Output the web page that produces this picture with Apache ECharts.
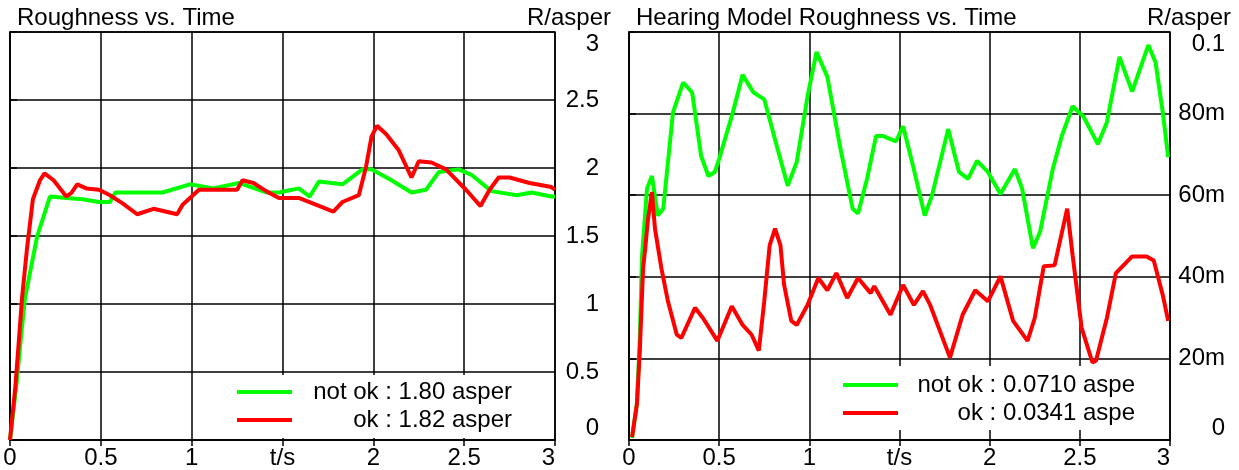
<!DOCTYPE html>
<html>
<head>
<meta charset="utf-8">
<title>Roughness vs. Time</title>
<script src="https://cdn.jsdelivr.net/npm/echarts@6/dist/echarts.min.js"></script>
<style>
  html, body { margin: 0; padding: 0; background: #fff; }
  #chart { width: 1239px; height: 470px; }
</style>
</head>
<body>
<div id="chart"></div>
<script>
// Roughness vs. Time - two panels

// left panel (R in asper)
const tNotOkL = [0, 0.035, 0.06, 0.082, 0.15, 0.22, 0.31, 0.4, 0.49, 0.55, 0.58, 0.7, 0.84, 0.99, 1.12, 1.26, 1.41, 1.48, 1.59, 1.65, 1.7, 1.83, 1.94, 1.99, 2.1, 2.21, 2.29, 2.36, 2.47, 2.54, 2.65, 2.79, 2.87, 2.98, 3.0];
const vNotOkL = [0, 0.4, 0.75, 1.04, 1.5, 1.79, 1.78, 1.77, 1.75, 1.75, 1.82, 1.82, 1.82, 1.88, 1.85, 1.89, 1.82, 1.82, 1.85, 1.79, 1.9, 1.88, 1.99, 1.99, 1.91, 1.82, 1.84, 1.97, 1.99, 1.95, 1.83, 1.8, 1.82, 1.79, 1.79];

const tOkL = [0, 0.03, 0.05, 0.066, 0.093, 0.126, 0.165, 0.19, 0.24, 0.31, 0.34, 0.37, 0.42, 0.49, 0.55, 0.62, 0.7, 0.79, 0.92, 0.95, 1.0, 1.04, 1.25, 1.28, 1.34, 1.41, 1.48, 1.59, 1.78, 1.83, 1.92, 1.96, 1.99, 2.02, 2.07, 2.14, 2.21, 2.25, 2.32, 2.4, 2.51, 2.59, 2.64, 2.69, 2.75, 2.86, 2.98, 3.0];
const vOkL = [0, 0.4, 0.75, 1.04, 1.4, 1.77, 1.91, 1.96, 1.91, 1.79, 1.82, 1.88, 1.85, 1.84, 1.8, 1.74, 1.66, 1.7, 1.66, 1.73, 1.79, 1.84, 1.84, 1.91, 1.89, 1.83, 1.78, 1.78, 1.68, 1.75, 1.8, 2.01, 2.23, 2.31, 2.25, 2.13, 1.93, 2.05, 2.04, 1.99, 1.84, 1.72, 1.84, 1.93, 1.93, 1.89, 1.86, 1.84];

// right panel (hearing model R in asper)
const tNotOkR = [0.017, 0.044, 0.06, 0.072, 0.1, 0.127, 0.16, 0.19, 0.244, 0.3, 0.35, 0.4, 0.44, 0.476, 0.5, 0.576, 0.63, 0.69, 0.75, 0.82, 0.88, 0.93, 0.99, 1.04, 1.1, 1.17, 1.24, 1.27, 1.32, 1.37, 1.41, 1.48, 1.52, 1.57, 1.64, 1.68, 1.77, 1.83, 1.88, 1.93, 1.99, 2.06, 2.14, 2.18, 2.24, 2.28, 2.35, 2.4, 2.46, 2.52, 2.6, 2.65, 2.72, 2.79, 2.88, 2.92, 2.96, 2.99];
const vNotOkR = [0.0005, 0.009, 0.025, 0.045, 0.0616, 0.0647, 0.055, 0.0567, 0.0803, 0.0876, 0.0852, 0.0696, 0.0647, 0.0657, 0.0689, 0.0803, 0.0895, 0.0852, 0.0835, 0.072, 0.0623, 0.0681, 0.0842, 0.0951, 0.089, 0.072, 0.0567, 0.0555, 0.064, 0.0745, 0.0745, 0.0732, 0.0769, 0.0681, 0.055, 0.0599, 0.0762, 0.0657, 0.064, 0.0684, 0.0657, 0.0603, 0.0664, 0.0616, 0.047, 0.0511, 0.0664, 0.0745, 0.0818, 0.0793, 0.0725, 0.0779, 0.0939, 0.0854, 0.0968, 0.0925, 0.0803, 0.0693];

const tOkR = [0.017, 0.044, 0.06, 0.078, 0.09, 0.105, 0.127, 0.144, 0.18, 0.216, 0.265, 0.29, 0.366, 0.41, 0.49, 0.57, 0.63, 0.68, 0.72, 0.75, 0.78, 0.81, 0.84, 0.86, 0.9, 0.93, 0.99, 1.05, 1.1, 1.15, 1.21, 1.27, 1.34, 1.36, 1.45, 1.52, 1.58, 1.63, 1.67, 1.78, 1.85, 1.92, 1.99, 2.06, 2.13, 2.21, 2.25, 2.3, 2.36, 2.43, 2.46, 2.51, 2.57, 2.59, 2.65, 2.7, 2.79, 2.87, 2.91, 2.96, 2.99];
const vOkR = [0.0007, 0.0088, 0.0219, 0.042, 0.047, 0.054, 0.0608, 0.0518, 0.042, 0.034, 0.0258, 0.025, 0.0324, 0.0299, 0.0243, 0.0328, 0.0282, 0.0258, 0.0219, 0.034, 0.0477, 0.0518, 0.0477, 0.038, 0.0292, 0.0282, 0.0331, 0.0397, 0.0367, 0.0409, 0.0348, 0.0397, 0.036, 0.0377, 0.0307, 0.038, 0.0331, 0.0365, 0.0331, 0.0202, 0.0307, 0.0367, 0.034, 0.0401, 0.0292, 0.0243, 0.0299, 0.0426, 0.0428, 0.0567, 0.0453, 0.0275, 0.019, 0.0195, 0.0299, 0.0409, 0.045, 0.045, 0.044, 0.0355, 0.0292];

const legendLeft = ['not ok : 1.80 asper', 'ok : 1.82 asper'];
const legendRight = ['not ok : 0.0710 aspe', 'ok : 0.0341 aspe'];

const FONT = '"Liberation Sans", Arial, sans-serif';
const GREEN = '#00ff00';
const RED = '#ff0000';

function pairs(ts, vs) {
    return ts.map((t, i) => [t, vs[i]]);
}

function xAxisFor(gridIndex) {
    return {
        type: 'value',
        gridIndex: gridIndex,
        min: 0,
        max: 3,
        interval: 0.5,
        axisLine: { show: true, lineStyle: { color: '#000', width: 1.5 } },
        axisTick: { show: true, length: 6, lineStyle: { color: '#000', width: 1.5 } },
        axisLabel: {
            color: '#000',
            fontSize: 24,
            fontFamily: FONT,
            margin: 6,
            alignMaxLabel: 'right',
            formatter: v => (v === 1.5 ? 't/s' : String(v))
        },
        splitLine: { show: true, lineStyle: { color: '#000', width: 1.5 } }
    };
}

function yAxisFor(gridIndex, max, interval, margin, fmt) {
    return {
        type: 'value',
        gridIndex: gridIndex,
        position: 'right',
        min: 0,
        max: max,
        interval: interval,
        axisLine: { show: true, lineStyle: { color: '#000', width: 1.5 } },
        axisTick: { show: true, length: 7, lineStyle: { color: '#000', width: 1.5 } },
        axisLabel: {
            color: '#000',
            fontSize: 24,
            fontFamily: FONT,
            margin: margin,
            align: 'right',
            lineHeight: 24,
            verticalAlignMaxLabel: 'top',
            verticalAlignMinLabel: 'bottom',
            formatter: fmt
        },
        splitLine: { show: true, lineStyle: { color: '#000', width: 1.5 } }
    };
}

function legendFor(names, left, top, padding, textWidth) {
    return {
        data: names,
        orient: 'vertical',
        left: left,
        top: top,
        padding: padding,
        itemGap: 4,
        itemWidth: 55,
        itemHeight: 4,
        icon: 'rect',
        backgroundColor: '#fff',
        selectedMode: false,
        formatter: name => '{t|' + name + '}',
        textStyle: {
            color: '#000',
            fontFamily: FONT,
            fontSize: 24,
            rich: {
                t: { width: textWidth, align: 'right', fontSize: 24, fontFamily: FONT, color: '#000' }
            }
        }
    };
}

function lineSeries(name, idx, color, data) {
    return {
        name: name,
        type: 'line',
        xAxisIndex: idx,
        yAxisIndex: idx,
        data: data,
        showSymbol: false,
        symbol: 'none',
        color: color,
        lineStyle: { color: color, width: 4 },
        z: 3
    };
}

const titleStyle = { color: '#000', fontSize: 24, fontWeight: 'normal', fontFamily: FONT };

const chart = echarts.init(document.getElementById('chart'));

chart.setOption({
    animation: false,
    backgroundColor: '#fff',
    title: [
        { text: 'Roughness vs. Time', left: 17, top: 6, padding: 0, textStyle: titleStyle },
        { text: 'R/asper', right: 628, top: 6, padding: 0, textStyle: titleStyle },
        { text: 'Hearing Model Roughness vs. Time', left: 636, top: 6, padding: 0, textStyle: titleStyle },
        { text: 'R/asper', right: 8, top: 6, padding: 0, textStyle: titleStyle }
    ],
    grid: [
        { left: 10, top: 32, width: 545, height: 410, show: true, borderColor: '#000', borderWidth: 1.5, backgroundColor: '#fff' },
        { left: 629, top: 32, width: 541, height: 410, show: true, borderColor: '#000', borderWidth: 1.5, backgroundColor: '#fff' }
    ],
    xAxis: [xAxisFor(0), xAxisFor(1)],
    yAxis: [
        yAxisFor(0, 3, 0.5, 44, v => String(v)),
        yAxisFor(1, 0.1, 0.02, 55, v => {
            if (v === 0) return '0';
            if (v > 0.099) return '0.1';
            return Math.round(v * 1000) + 'm';
        })
    ],
    legend: [
        legendFor(legendLeft, 215, 375, [5, 41, 6, 22], 215),
        legendFor(legendRight, 828, 366, [7, 30, 5, 15], 232)
    ],
    series: [
        lineSeries(legendLeft[0], 0, GREEN, pairs(tNotOkL, vNotOkL)),
        lineSeries(legendLeft[1], 0, RED, pairs(tOkL, vOkL)),
        lineSeries(legendRight[0], 1, GREEN, pairs(tNotOkR, vNotOkR)),
        lineSeries(legendRight[1], 1, RED, pairs(tOkR, vOkR))
    ]
});

window.addEventListener('resize', () => chart.resize());
</script>
</body>
</html>
